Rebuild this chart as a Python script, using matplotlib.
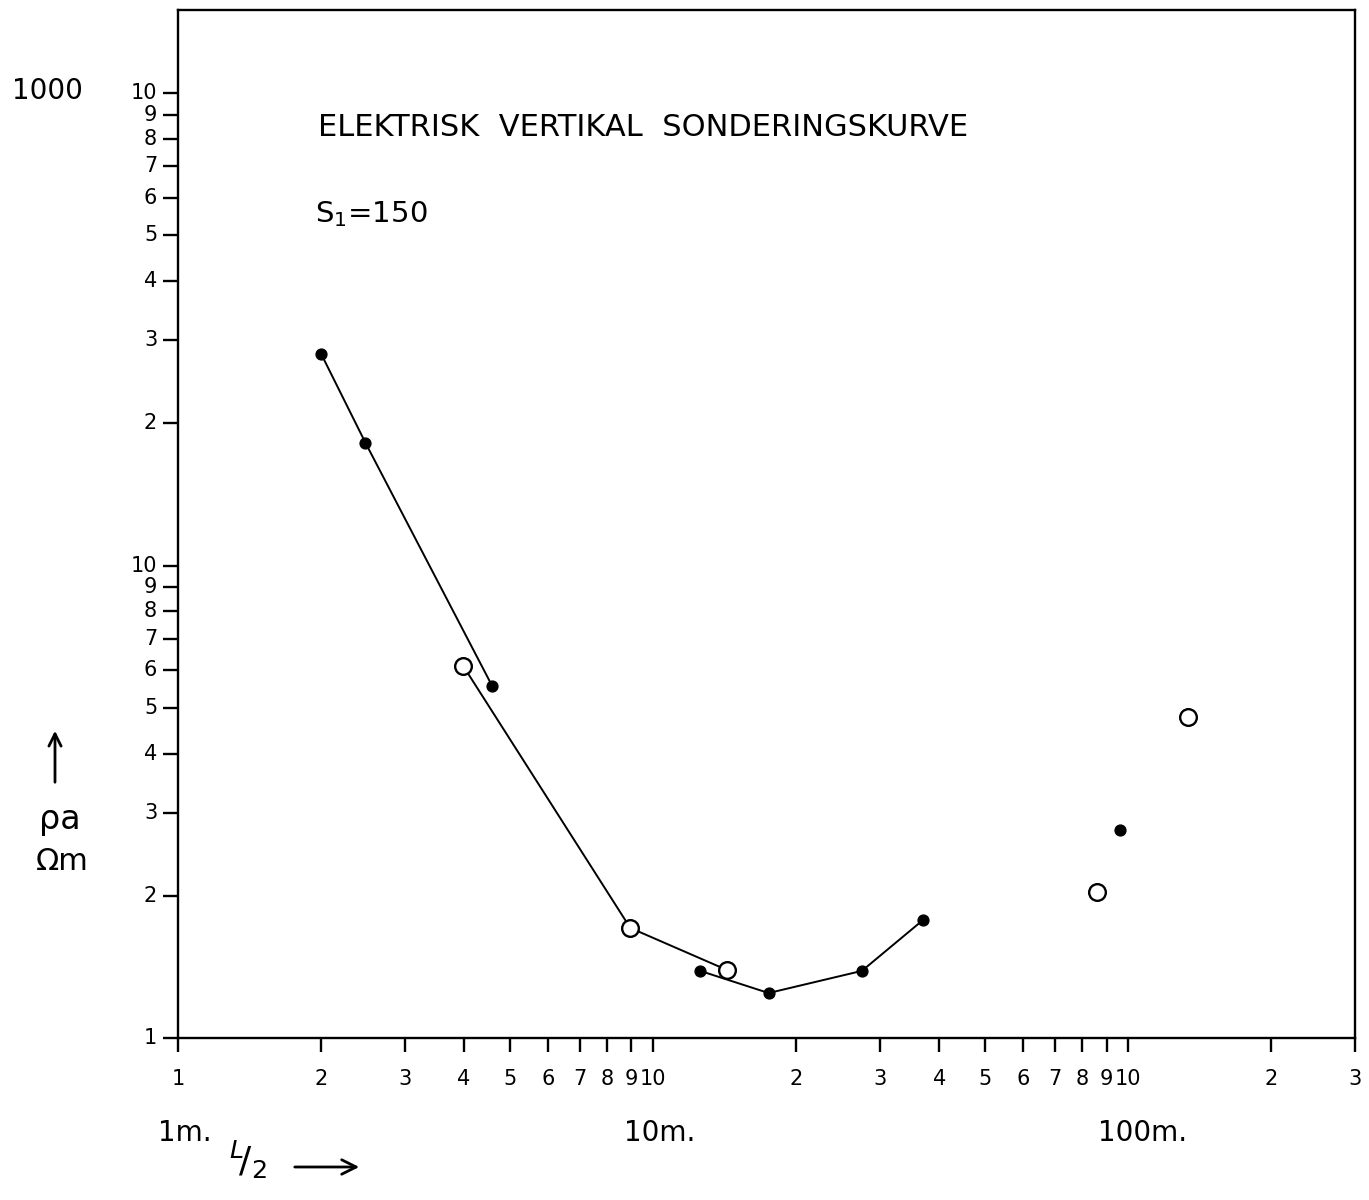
import numpy as np
import matplotlib
matplotlib.use('Agg')
import matplotlib.pyplot as plt
from matplotlib.patches import FancyArrowPatch
from matplotlib.ticker import FixedLocator, NullLocator

# ── Måledata: L/2 [m] og tilsyneladende resistivitet ─────────
# fyldte punkter, sammenhængende gren 1
gren1_x = [2.0, 2.48, 4.58]
gren1_y = [28.1, 18.2, 5.57]
# åbne punkter, sammenhængende gren 2
gren2_x = [3.98, 8.95, 14.3]
gren2_y = [6.14, 1.71, 1.393]
# fyldte punkter, sammenhængende gren 3
gren3_x = [12.56, 17.5, 27.5, 37.0]
gren3_y = [1.387, 1.245, 1.387, 1.778]
# løse punkter
los_fyldt_x = [96.2]
los_fyldt_y = [2.76]
los_aaben_x = [86.0, 133.8]
los_aaben_y = [2.04, 4.79]

# akseinddeling (logaritmisk, gentagne cifre pr. dekade)
x_ticks = [1, 2, 3, 4, 5, 6, 7, 8, 9, 10,
           20, 30, 40, 50, 60, 70, 80, 90, 100, 200, 300]
x_labels = ['1', '2', '3', '4', '5', '6', '7', '8', '9', '10',
            '2', '3', '4', '5', '6', '7', '8', '9', '10', '2', '3']
y_ticks = [1, 2, 3, 4, 5, 6, 7, 8, 9, 10,
           20, 30, 40, 50, 60, 70, 80, 90, 100]
y_labels = ['1', '2', '3', '4', '5', '6', '7', '8', '9', '10',
            '2', '3', '4', '5', '6', '7', '8', '9', '10']

W, H = 1369, 1200
fig = plt.figure(figsize=(W / 100, H / 100), dpi=100)
fig.patch.set_facecolor('white')
ax = fig.add_axes([178 / W, 1 - 1038 / H, (1355 - 178) / W, (1038 - 10) / H])

ax.set_xscale('log')
ax.set_yscale('log')
ax.set_xlim(1, 300)
ax.set_ylim(1, 150)

LW = 1.4
ax.plot(gren1_x, gren1_y, '-', color='black', lw=LW, zorder=2)
ax.plot(gren3_x, gren3_y, '-', color='black', lw=LW, zorder=2)
ax.plot(gren2_x, gren2_y, '-', color='black', lw=LW, zorder=2)

fyldt = dict(ls='none', marker='o', ms=7.8, color='black', zorder=3)
aaben = dict(ls='none', marker='o', ms=12, mfc='white', mec='black',
             mew=1.7, zorder=4)
ax.plot(gren1_x, gren1_y, **fyldt)
ax.plot(gren3_x, gren3_y, **fyldt)
ax.plot(los_fyldt_x, los_fyldt_y, **fyldt)
ax.plot(gren2_x, gren2_y, **aaben)
ax.plot(los_aaben_x, los_aaben_y, **aaben)

# akser
for s in ax.spines.values():
    s.set_linewidth(1.7)
ax.xaxis.set_major_locator(FixedLocator(x_ticks))
ax.xaxis.set_minor_locator(NullLocator())
ax.set_xticklabels(x_labels)
ax.yaxis.set_major_locator(FixedLocator(y_ticks))
ax.yaxis.set_minor_locator(NullLocator())
ax.set_yticklabels(y_labels)
ax.tick_params(axis='x', direction='out', length=10, width=1.7,
               labelsize=15, pad=12)
ax.tick_params(axis='y', direction='out', length=11, width=1.7,
               labelsize=15, pad=4)
for lbl in ax.get_yticklabels():
    lbl.set_verticalalignment('center')

# tekster
fig.text(318 / W, 1 - 127 / H, 'ELEKTRISK  VERTIKAL  SONDERINGSKURVE',
         fontsize=22, ha='left', va='center')
fig.text(315 / W, 1 - 214 / H, r'S$_1$=150', fontsize=21,
         ha='left', va='center')
fig.text(47 / W, 1 - 91 / H, '1000', fontsize=20, ha='center', va='center')

fig.text(185 / W, 1 - 1133 / H, '1m.', fontsize=20, ha='center', va='center')
fig.text(660 / W, 1 - 1133 / H, '10m.', fontsize=20, ha='center', va='center')
fig.text(1143 / W, 1 - 1133 / H, '100m.', fontsize=20, ha='center', va='center')

# L/2 med pil
fig.text(248 / W, 1 - 1160 / H, '$^{L}\\!/_{2}$', fontsize=26,
         ha='center', va='center')
fig.patches.append(FancyArrowPatch(
    (292 / W, 1 - 1167 / H), (362 / W, 1 - 1167 / H),
    transform=fig.transFigure, arrowstyle='->', mutation_scale=26,
    lw=2.0, color='black'))

# rho_a / Ohm m med pil
fig.patches.append(FancyArrowPatch(
    (55 / W, 1 - 785 / H), (55 / W, 1 - 728 / H),
    transform=fig.transFigure, arrowstyle='->', mutation_scale=22,
    lw=2.0, color='black'))
fig.text(60 / W, 1 - 820 / H, 'ρa', fontsize=24, ha='center', va='center')
fig.text(62 / W, 1 - 862 / H, 'Ωm', fontsize=22, ha='center', va='center')

fig.savefig('out.png', dpi=100, facecolor='white')
